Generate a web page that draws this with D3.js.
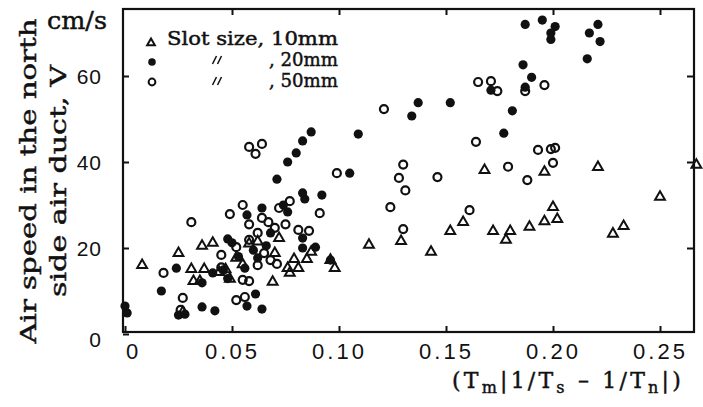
<!DOCTYPE html>
<html>
<head>
<meta charset="utf-8">
<script src="https://cdn.jsdelivr.net/npm/d3@7"></script>
<style>
  html, body { margin: 0; padding: 0; background: #fff; }
  svg { display: block; }
  .mono { font-family: "DejaVu Serif", "Liberation Serif", serif; fill: #111; stroke: #111; stroke-width: 0.45; }
  .tick text { font-family: "Liberation Sans", Arial, sans-serif; fill: #111; }
</style>
</head>
<body>
<script>
let width = 703,
  height = 407;

// slot size 10 mm (triangles): [x, V]
const slot10 = [
  [0.008, 16.0], [0.025, 18.8], [0.031, 15.1], [0.032, 12.3], [0.035, 12.3],
  [0.037, 15.1], [0.036, 20.5], [0.041, 21.2], [0.044, 14.4], [0.049, 12.8],
  [0.052, 17.7], [0.058, 21.0], [0.027, 5.1], [0.070, 18.8], [0.072, 22.3],
  [0.069, 12.1], [0.076, 15.3], [0.077, 14.2], [0.079, 17.4], [0.081, 15.3],
  [0.085, 17.4], [0.087, 19.1], [0.096, 17.2], [0.098, 15.3], [0.114, 20.7],
  [0.129, 21.6], [0.143, 19.1], [0.152, 23.9], [0.158, 26.0], [0.168, 38.1],
  [0.172, 23.9], [0.178, 21.9], [0.180, 23.9], [0.189, 24.9], [0.196, 26.2],
  [0.196, 37.7], [0.200, 29.5], [0.202, 26.7], [0.221, 38.8], [0.228, 23.3],
  [0.233, 25.1], [0.250, 31.9], [0.267, 39.3], [0.062, 21.5], [0.055, 16.2],
  [0.047, 15.0]
];

// slot size 20 mm (filled circles)
const slot20 = [
  [0.000, 6.5], [0.001, 4.9], [0.017, 10.0], [0.024, 15.3], [0.025, 4.4],
  [0.028, 4.6], [0.036, 11.9], [0.036, 6.3], [0.041, 14.2], [0.042, 5.4],
  [0.046, 14.9], [0.048, 22.1], [0.050, 21.2], [0.048, 12.9], [0.056, 15.3],
  [0.057, 27.7], [0.057, 6.5], [0.061, 9.3], [0.062, 17.7], [0.064, 29.3],
  [0.064, 5.8], [0.066, 20.5], [0.071, 36.0], [0.074, 30.0], [0.076, 40.0],
  [0.076, 28.4], [0.080, 42.1], [0.083, 44.9], [0.087, 47.0], [0.083, 32.8],
  [0.084, 31.4], [0.092, 32.3], [0.083, 22.3], [0.083, 20.0], [0.089, 20.2],
  [0.096, 17.2], [0.105, 37.4], [0.109, 46.5], [0.134, 50.7], [0.137, 53.8],
  [0.152, 53.8], [0.171, 56.7], [0.177, 46.7], [0.181, 51.9], [0.186, 62.6],
  [0.187, 57.4], [0.190, 59.7], [0.187, 72.0], [0.195, 73.0], [0.201, 71.5],
  [0.199, 70.0], [0.199, 68.5], [0.216, 64.0], [0.217, 70.0], [0.221, 72.0],
  [0.222, 68.0], [0.060, 19.5], [0.068, 23.5], [0.053, 18.0]
];

// slot size 50 mm (open circles)
const slot50 = [
  [0.018, 14.2], [0.027, 8.4], [0.026, 5.6], [0.031, 26.0], [0.045, 18.4],
  [0.045, 15.5], [0.049, 27.9], [0.052, 20.2], [0.052, 7.9], [0.055, 30.0],
  [0.055, 12.6], [0.058, 12.3], [0.056, 8.6], [0.058, 21.9], [0.058, 43.5],
  [0.061, 41.9], [0.064, 44.2], [0.062, 23.5], [0.062, 16.0], [0.065, 18.8],
  [0.067, 26.0], [0.068, 17.2], [0.070, 24.7], [0.071, 16.3], [0.072, 29.3],
  [0.077, 30.9], [0.081, 24.2], [0.086, 24.0], [0.091, 28.1], [0.099, 37.4],
  [0.121, 52.3], [0.124, 29.5], [0.128, 36.3], [0.130, 39.4], [0.130, 24.4],
  [0.131, 33.4], [0.146, 36.5], [0.161, 28.8], [0.164, 44.7], [0.165, 58.6],
  [0.171, 58.8], [0.174, 56.5], [0.179, 38.9], [0.187, 56.5], [0.188, 35.8],
  [0.193, 42.8], [0.196, 57.9], [0.199, 43.0], [0.201, 43.3], [0.200, 39.8],
  [0.058, 25.5], [0.064, 27.0], [0.075, 25.5]
];

const xTicks = [0, 0.05, 0.10, 0.15, 0.20, 0.25];
const yTicks = [0, 20, 40, 60];
const legendLabels = ["Slot size, 10mm", ", 20mm", ", 50mm"];

let frame = { left: 123, right: 694, top: 9, bottom: 332 };

let x = d3.scaleLinear().domain([0, 0.25]).range([125, 660]);
let y = d3.scaleLinear().domain([0, 60]).range([334, 76]);

let svg = d3.select("body").append("svg")
  .attr("width", width)
  .attr("height", height);

svg.append("rect").attr("width", width).attr("height", height).attr("fill", "#fff");

// axes, ticks pointing inward
let fmt = d => d === 0 ? "0" : d3.format(".2f")(d);

let xAxis = svg.append("g")
  .attr("transform", `translate(0,${frame.bottom})`)
  .call(d3.axisBottom(x).tickValues(xTicks).tickFormat(fmt).tickSizeInner(-6).tickSizeOuter(0).tickPadding(16));
xAxis.selectAll(".tick text")
  .attr("font-size", 22).attr("letter-spacing", 3)
  .attr("dy", "0.5em")
  .attr("dx", d => d === 0 ? 8 : 0);

svg.append("g")
  .attr("transform", `translate(0,${frame.top})`)
  .call(d3.axisTop(x).tickValues(xTicks.slice(1)).tickFormat("").tickSizeInner(-6).tickSizeOuter(0));

let yAxis = svg.append("g")
  .attr("transform", `translate(${frame.left},0)`)
  .call(d3.axisLeft(y).tickValues(yTicks).tickSizeInner(-6).tickSizeOuter(0).tickPadding(21));
yAxis.selectAll(".tick text")
  .attr("font-size", 21).attr("letter-spacing", 1)
  .attr("dy", d => d === 0 ? "0.6em" : "0.35em");

svg.append("g")
  .attr("transform", `translate(${frame.right},0)`)
  .call(d3.axisRight(y).tickValues(yTicks.slice(1)).tickFormat("").tickSizeInner(-7).tickSizeOuter(0));

svg.selectAll(".domain").remove();
svg.selectAll(".tick line").attr("stroke", "#111").attr("stroke-width", 2);

svg.append("rect")
  .attr("x", frame.left).attr("y", frame.top)
  .attr("width", frame.right - frame.left)
  .attr("height", frame.bottom - frame.top)
  .attr("fill", "none").attr("stroke", "#111").attr("stroke-width", 2.2);

// points
let tri = d3.symbol(d3.symbolTriangle, 42);

svg.append("g").selectAll("circle.open")
  .data(slot50).enter().append("circle")
  .attr("class", "open")
  .attr("cx", d => x(d[0])).attr("cy", d => y(d[1]))
  .attr("r", 4)
  .attr("fill", "none").attr("stroke", "#111").attr("stroke-width", 2.2);

svg.append("g").selectAll("circle.filled")
  .data(slot20).enter().append("circle")
  .attr("class", "filled")
  .attr("cx", d => x(d[0])).attr("cy", d => y(d[1]))
  .attr("r", 4.6)
  .attr("fill", "#111");

svg.append("g").selectAll("path.tri")
  .data(slot10).enter().append("path")
  .attr("class", "tri")
  .attr("d", tri)
  .attr("transform", d => `translate(${x(d[0])},${y(d[1])})`)
  .attr("fill", "none").attr("stroke", "#111").attr("stroke-width", 2);

// legend
let lg = svg.append("g");
lg.append("path").attr("d", d3.symbol(d3.symbolTriangle, 26))
  .attr("transform", "translate(151,43)")
  .attr("fill", "none").attr("stroke", "#111").attr("stroke-width", 2);
lg.append("circle").attr("cx", 152).attr("cy", 62).attr("r", 3.8).attr("fill", "#111");
lg.append("circle").attr("cx", 152).attr("cy", 82).attr("r", 3.4)
  .attr("fill", "none").attr("stroke", "#111").attr("stroke-width", 2);

lg.append("text").attr("class", "mono").attr("x", 167).attr("y", 45)
  .attr("font-size", 18).attr("textLength", 171).attr("lengthAdjust", "spacingAndGlyphs")
  .text(legendLabels[0]);
[1, 2].forEach(i => {
  let yy = 45 + i * 21;
  // ditto mark
  lg.append("g").attr("transform", `translate(217,${yy - 6})`)
    .selectAll("line").data([-2.5, 2.5]).enter().append("line")
    .attr("x1", d => d - 2).attr("y1", 4).attr("x2", d => d + 2).attr("y2", -4)
    .attr("stroke", "#111").attr("stroke-width", 1.6);
  lg.append("text").attr("class", "mono").attr("x", 269).attr("y", yy)
    .attr("font-size", 18).attr("textLength", 69).attr("lengthAdjust", "spacingAndGlyphs")
    .text(legendLabels[i]);
});

// y label
let yl = svg.append("g").attr("class", "mono");
yl.append("text")
  .attr("transform", "translate(36,181) rotate(-90)")
  .attr("text-anchor", "middle").attr("font-size", 23)
  .attr("textLength", 325).attr("lengthAdjust", "spacingAndGlyphs")
  .text("Air speed in the north");
yl.append("text")
  .attr("transform", "translate(66,181) rotate(-90)")
  .attr("text-anchor", "middle").attr("font-size", 23)
  .attr("textLength", 232).attr("lengthAdjust", "spacingAndGlyphs")
  .text("side air duct, V");
svg.append("text").attr("class", "mono")
  .attr("x", 47).attr("y", 29).attr("font-size", 24)
  .attr("textLength", 60).attr("lengthAdjust", "spacingAndGlyphs").text("cm/s");

// x label
let xl = svg.append("text").attr("class", "mono")
  .attr("x", 452).attr("y", 388).attr("font-size", 22).attr("letter-spacing", 3.2);
xl.append("tspan").text("(T");
xl.append("tspan").attr("font-size", 16).attr("dy", 5).text("m");
xl.append("tspan").attr("dy", -5).text("|1/T");
xl.append("tspan").attr("font-size", 16).attr("dy", 5).text("s");
xl.append("tspan").attr("dy", -5).text(" \u2013 1/T");
xl.append("tspan").attr("font-size", 16).attr("dy", 5).text("n");
xl.append("tspan").attr("dy", -5).text("|)");
</script>
</body>
</html>
